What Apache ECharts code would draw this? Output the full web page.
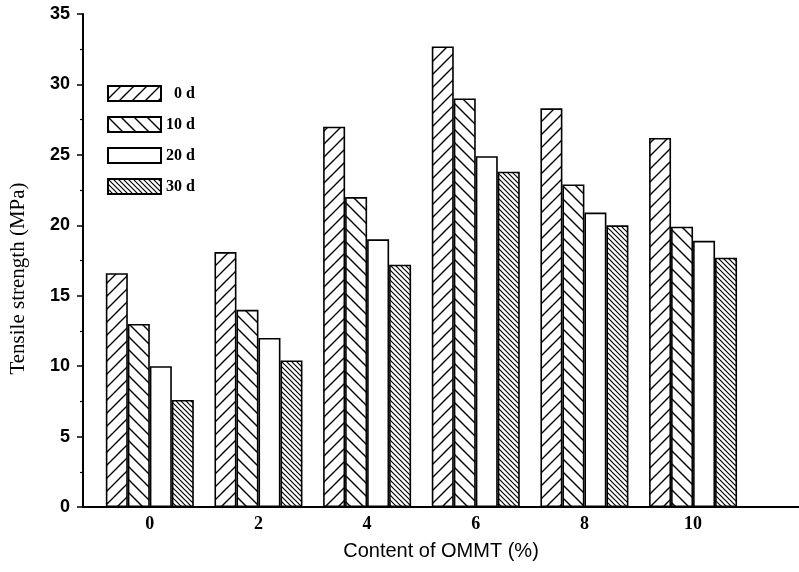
<!DOCTYPE html>
<html>
<head>
<meta charset="utf-8">
<script src="https://cdn.jsdelivr.net/npm/echarts@6/dist/echarts.min.js"></script>
<style>
  html, body { margin: 0; padding: 0; background: #fff; }
  #chart { width: 799px; height: 572px; }
</style>
</head>
<body>
<div id="chart"></div>
<script>
const contents = [0, 2, 4, 6, 8, 10];
const dayNames = ['0 d', '10 d', '20 d', '30 d'];
const day0 = [16.6, 18.1, 27.0, 32.7, 28.3, 26.2];
const day10 = [13.0, 14.0, 22.0, 29.0, 22.9, 19.9];
const day20 = [10.0, 12.0, 19.0, 24.9, 20.9, 18.9];
const day30 = [7.6, 10.4, 17.2, 23.8, 20.0, 17.7];
const yTicks = [0, 5, 10, 15, 20, 25, 30, 35];

// small tiles for the hatch fills
const hatch = (size, dir, lw) => {
  const c = document.createElement('canvas');
  c.width = size;
  c.height = size;
  const g = c.getContext('2d');
  g.fillStyle = '#fff';
  g.fillRect(0, 0, size, size);
  g.strokeStyle = '#000';
  g.lineWidth = lw;
  g.beginPath();
  [-size, 0, size].forEach(o => {
    if (dir === '/') {
      g.moveTo(o - 1, size + 1);
      g.lineTo(o + size + 1, -1);
    } else {
      g.moveTo(o - 1, -1);
      g.lineTo(o + size + 1, size + 1);
    }
  });
  g.stroke();
  return { image: c, repeat: 'repeat' };
};

const fills = [hatch(13, '/', 1.4), hatch(13, '\\', 1.4), '#fff', hatch(5, '\\', 1.2)];
const values = [day0, day10, day20, day30];

const chart = echarts.init(document.getElementById('chart'), null, { renderer: 'canvas' });

chart.setOption({
  backgroundColor: '#fff',
  animation: false,
  grid: { left: 82, right: 0, top: 14, bottom: 65 },
  legend: {
    orient: 'vertical',
    left: 102,
    top: 80,
    itemWidth: 53,
    itemHeight: 15,
    itemGap: 14,
    icon: 'rect',
    data: dayNames,
    formatter: name => (name.length < 4 ? '  ' + name : name),
    textStyle: { fontFamily: 'Liberation Serif', fontWeight: 'bold', fontSize: 16, color: '#000' }
  },
  xAxis: {
    type: 'value',
    min: -1.23,
    max: 11.95,
    splitLine: { show: false },
    axisLine: { show: true, onZero: false, lineStyle: { color: '#000', width: 2 } },
    axisTick: { show: false },
    axisLabel: {
      customValues: contents,
      margin: 8,
      fontFamily: 'Liberation Serif',
      fontWeight: 'bold',
      fontSize: 18,
      color: '#000'
    },
    name: 'Content of OMMT (%)',
    nameLocation: 'middle',
    nameGap: 34,
    nameTextStyle: { fontFamily: 'Liberation Sans', fontSize: 20, color: '#000' }
  },
  yAxis: {
    type: 'value',
    min: 0,
    max: 35,
    interval: 5,
    splitLine: { show: false },
    axisLine: { show: true, onZero: false, lineStyle: { color: '#000', width: 2 } },
    axisTick: { show: true, length: 6, lineStyle: { color: '#000', width: 1.5 } },
    minorTick: { show: true, splitNumber: 2, length: 3, lineStyle: { color: '#000', width: 1.2 } },
    axisLabel: {
      margin: 13,
      formatter: v => (yTicks.includes(v) ? String(v) : ''),
      fontFamily: 'Liberation Sans',
      fontWeight: 'bold',
      fontSize: 18,
      color: '#000'
    },
    name: 'Tensile strength (MPa)',
    nameLocation: 'middle',
    nameRotate: 90,
    nameGap: 54,
    nameTextStyle: {
      fontFamily: 'Liberation Serif',
      fontSize: 21,
      color: '#000',
      padding: [0, 36, 0, 0]
    }
  },
  series: dayNames.map((name, i) => ({
    name,
    type: 'bar',
    barWidth: 22,
    barGap: '0%',
    data: contents.map((c, j) => [c, values[i][j]]),
    itemStyle: { color: fills[i], borderColor: '#000', borderWidth: 1.6 }
  }))
});
</script>
</body>
</html>
